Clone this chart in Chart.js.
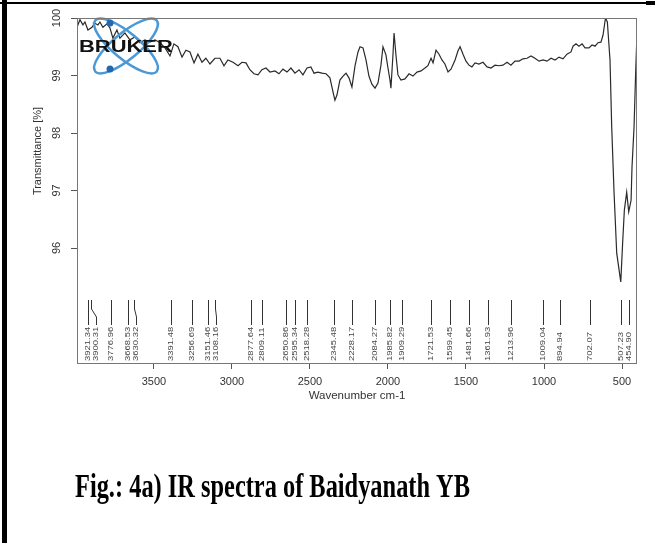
<!DOCTYPE html>
<html>
<head>
<meta charset="utf-8">
<script src="https://cdn.jsdelivr.net/npm/chart.js@4.4.1/dist/chart.umd.min.js"></script>
<style>
  body { margin: 0; background: #fff; }
  canvas { display: block; }
</style>
</head>
<body>
<canvas id="myChart" width="655" height="543"></canvas>
<script>
// Spectrum (wavenumber cm-1, transmittance %)
const wavenumbers = [
    3993, 3974, 3955, 3942, 3923, 3897, 3878, 3859, 3846, 3827, 3801, 3782, 3763, 3737, 3718, 3686,
    3654, 3622, 3590, 3558, 3526, 3493, 3461, 3429, 3397, 3372, 3346, 3320, 3295, 3269, 3243, 3218,
    3192, 3167, 3141, 3109, 3077, 3051, 3026, 2993, 2961, 2936, 2910, 2885, 2859, 2833, 2808, 2782,
    2756, 2724, 2699, 2673, 2647, 2622, 2596, 2570, 2545, 2519, 2494, 2474, 2449, 2423, 2397, 2372,
    2352, 2340, 2327, 2308, 2288, 2269, 2250, 2231, 2211, 2192, 2179, 2160, 2141, 2122, 2103, 2083,
    2064, 2045, 2032, 2013, 2000, 1987, 1981, 1968, 1961, 1949, 1936, 1917, 1891, 1865, 1840, 1814,
    1788, 1763, 1744, 1724, 1711, 1692, 1673, 1654, 1635, 1615, 1596, 1570, 1551, 1538, 1519, 1500,
    1481, 1462, 1442, 1417, 1391, 1365, 1340, 1314, 1288, 1263, 1237, 1212, 1186, 1160, 1135, 1109,
    1083, 1058, 1032, 1006, 981, 955, 929, 904, 878, 853, 827, 814, 795, 776, 756, 737,
    712, 692, 673, 654, 635, 622, 606, 594, 577, 566, 551, 534, 508, 496, 485, 470,
    457, 442, 436, 423, 412, 404
];
const transmittance = [
    99.84, 99.97, 99.88, 99.93, 99.79, 99.84, 99.91, 99.88, 99.93, 99.84, 99.90, 99.83, 99.65, 99.79, 99.65, 99.74,
    99.62, 99.67, 99.57, 99.62, 99.58, 99.62, 99.57, 99.48, 99.34, 99.55, 99.50, 99.32, 99.44, 99.41, 99.22, 99.37,
    99.23, 99.30, 99.20, 99.30, 99.30, 99.17, 99.27, 99.23, 99.17, 99.23, 99.22, 99.10, 99.03, 99.01, 99.10, 99.13,
    99.06, 99.08, 99.03, 99.11, 99.06, 99.13, 99.04, 99.10, 99.01, 99.13, 99.15, 99.04, 99.06, 99.04, 99.03, 98.96,
    98.71, 98.57, 98.66, 98.92, 98.99, 99.04, 98.96, 98.80, 99.17, 99.41, 99.50, 99.48, 99.27, 98.99, 98.85, 98.78,
    98.87, 99.18, 99.50, 99.36, 99.13, 98.92, 98.78, 99.36, 99.74, 99.36, 99.01, 98.92, 98.94, 99.03, 98.99, 99.06,
    99.08, 99.13, 99.17, 99.30, 99.22, 99.44, 99.37, 99.27, 99.20, 99.06, 99.11, 99.27, 99.43, 99.50, 99.37, 99.25,
    99.18, 99.15, 99.22, 99.20, 99.23, 99.15, 99.13, 99.18, 99.17, 99.18, 99.23, 99.18, 99.25, 99.25, 99.29, 99.30,
    99.34, 99.30, 99.25, 99.27, 99.25, 99.30, 99.27, 99.32, 99.29, 99.37, 99.41, 99.51, 99.55, 99.51, 99.55, 99.48,
    99.48, 99.53, 99.51, 99.57, 99.58, 99.70, 100.00, 99.93, 99.27, 98.10, 96.96, 95.91, 95.41, 96.09, 96.66, 96.97,
    96.63, 96.83, 97.41, 98.10, 99.10, 99.74
];
// Peak picks printed under the spectrum
const peakLabels = [
    3921.34, 3900.31, 3776.96, 3668.53, 3630.32, 3391.48, 3256.69, 3151.46, 3108.16, 2877.64,
    2809.11, 2650.86, 2595.34, 2518.28, 2345.48, 2228.17, 2084.27, 1985.82, 1909.29, 1721.53,
    1599.45, 1481.66, 1361.93, 1213.96, 1009.04, 894.94, 702.07, 507.23, 454.90
];
const xTickValues = [3500, 3000, 2500, 2000, 1500, 1000, 500];
const yTickValues = [96, 97, 98, 99, 100];

const sansFont = 'Arial, "Liberation Sans", sans-serif';
Chart.defaults.font.family = sansFont;

// page frame, plot box, logo, peak marks, y title and caption
const decorations = {
    id: 'decorations',
    beforeDraw(chart) {
        const ctx = chart.ctx;
        ctx.save();
        ctx.fillStyle = '#fff';
        ctx.fillRect(0, 0, chart.width, chart.height);
        ctx.fillStyle = '#000';
        ctx.fillRect(2, 0, 5, chart.height);   // left border
        ctx.fillRect(0, 2, 646, 2);            // top border
        ctx.fillRect(646, 1, 9, 4);
        ctx.restore();
    },
    afterDatasetsDraw(chart) {
        const ctx = chart.ctx;
        // BRUKER logo
        ctx.save();
        ctx.strokeStyle = '#4a98d6';
        ctx.lineWidth = 2.5;
        ctx.beginPath();
        ctx.ellipse(126, 46, 40, 13, Math.PI * 0.22, 0, Math.PI * 2);
        ctx.stroke();
        ctx.beginPath();
        ctx.ellipse(126, 46, 40, 13, -Math.PI * 0.22, 0, Math.PI * 2);
        ctx.stroke();
        ctx.fillStyle = '#2168b5';
        ctx.beginPath(); ctx.arc(110, 23, 3.5, 0, Math.PI * 2); ctx.fill();
        ctx.beginPath(); ctx.arc(110, 69, 3.5, 0, Math.PI * 2); ctx.fill();
        ctx.fillStyle = '#111';
        ctx.font = 'bold 16px ' + sansFont;
        ctx.textBaseline = 'alphabetic';
        ctx.scale(1.37, 1);
        ctx.fillText('BRUKER', 79 / 1.37, 52);
        ctx.restore();
    },
    afterDraw(chart) {
        const ctx = chart.ctx;
        const a = chart.chartArea;
        const x = chart.scales.x;

        ctx.save();
        // plot box
        ctx.strokeStyle = '#777';
        ctx.lineWidth = 1;
        ctx.strokeRect(a.left + 0.5, a.top + 0.5, a.right - a.left - 1, a.bottom - a.top);

        // peak markers with labels spread apart when they collide
        let prev = -Infinity;
        ctx.strokeStyle = '#333';
        ctx.fillStyle = '#444';
        ctx.font = '7px ' + sansFont;
        peakLabels.forEach(wn => {
            const px = Math.round(x.getPixelForValue(wn)) + 0.5;
            const lx = Math.max(px, prev + 8);
            prev = lx;
            ctx.beginPath();
            ctx.moveTo(px, 300);
            ctx.lineTo(px, 309);
            ctx.lineTo(lx, 317);
            ctx.lineTo(lx, 325);
            ctx.stroke();
            ctx.save();
            ctx.translate(lx, 361);
            ctx.rotate(-Math.PI / 2);
            ctx.scale(1.35, 1);
            ctx.textAlign = 'left';
            ctx.textBaseline = 'middle';
            ctx.fillText(wn.toFixed(2), 0, 0);
            ctx.restore();
        });

        // y axis title
        ctx.save();
        ctx.translate(38, 151);
        ctx.rotate(-Math.PI / 2);
        ctx.fillStyle = '#333';
        ctx.font = '11px ' + sansFont;
        ctx.textAlign = 'center';
        ctx.textBaseline = 'middle';
        ctx.fillText('Transmittance [%]', 0, 0);
        ctx.restore();

        // figure caption
        ctx.save();
        ctx.scale(1, 1.42);
        ctx.fillStyle = '#000';
        ctx.font = 'bold 24.4px "Liberation Serif", "Times New Roman", serif';
        ctx.textBaseline = 'alphabetic';
        ctx.fillText('Fig.: 4a) IR spectra of Baidyanath YB', 75, 497 / 1.42);
        ctx.restore();

        ctx.restore();
    }
};

const ctx = document.getElementById('myChart').getContext('2d');
const myChart = new Chart(ctx, {
    type: 'line',
    data: {
        datasets: [{
            label: 'IR spectrum',
            data: wavenumbers.map((wn, i) => ({ x: wn, y: transmittance[i] })),
            borderColor: '#2a2a2a',
            borderWidth: 1.2,
            pointRadius: 0,
            tension: 0,
            fill: false
        }]
    },
    options: {
        responsive: false,
        animation: false,
        layout: {
            padding: { left: 37, top: 18, right: 18, bottom: 140 }
        },
        plugins: {
            legend: { display: false },
            tooltip: { enabled: false }
        },
        scales: {
            x: {
                type: 'linear',
                reverse: true,
                min: 404,
                max: 3993,
                afterBuildTicks: s => { s.ticks = xTickValues.map(v => ({ value: v })); },
                afterFit: s => { s.height = 40; },
                grid: { drawOnChartArea: false, drawTicks: true, tickLength: 6, color: '#555' },
                border: { display: false },
                ticks: {
                    color: '#333',
                    font: { size: 11 },
                    padding: 6,
                    maxRotation: 0,
                    callback: v => String(v)
                },
                title: {
                    display: true,
                    text: 'Wavenumber cm-1',
                    color: '#333',
                    font: { size: 11.5 },
                    padding: { top: 0, bottom: 0 }
                }
            },
            y: {
                min: 94,
                max: 100,
                afterBuildTicks: s => { s.ticks = yTickValues.map(v => ({ value: v })); },
                afterFit: s => { s.width = 40; },
                grid: { drawOnChartArea: false, drawTicks: true, tickLength: 6, color: '#555' },
                border: { display: false },
                ticks: {
                    color: '#333',
                    font: { size: 11 },
                    padding: 5,
                    minRotation: 90,
                    maxRotation: 90,
                    crossAlign: 'center',
                    callback: v => String(v)
                }
            }
        }
    },
    plugins: [decorations]
});
</script>
</body>
</html>
